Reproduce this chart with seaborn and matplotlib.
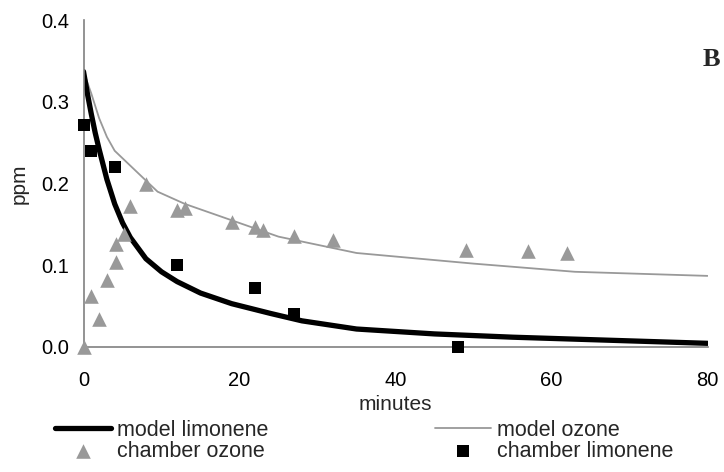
import numpy as np
import pandas as pd
import matplotlib
matplotlib.use("Agg")
import matplotlib.pyplot as plt
import seaborn as sns

# model curves (minutes, ppm)
model_t_lim = [0, 0.5, 1, 1.5, 2, 3, 4, 5, 6, 8, 10, 12, 15, 19, 24, 28, 35, 45, 55, 65, 80]
model_lim = [0.337, 0.31, 0.285, 0.262, 0.242, 0.205, 0.175, 0.152, 0.134, 0.108, 0.092,
             0.080, 0.066, 0.053, 0.041, 0.032, 0.022, 0.016, 0.012, 0.009, 0.0045]

model_t_oz = [0, 1, 2, 3, 4, 9.5, 13, 19, 25, 35, 50, 63, 80]
model_oz = [0.337, 0.31, 0.28, 0.257, 0.24, 0.19, 0.175, 0.155, 0.135, 0.115, 0.102, 0.092, 0.087]

# chamber measurements
ch_t_oz = [0, 1, 2, 3, 4.2, 4.2, 5.2, 5.9, 8, 12, 13, 19, 22, 23, 27, 32, 49, 57, 62]
ch_oz = [0.0, 0.062, 0.034, 0.082, 0.104, 0.126, 0.138, 0.172, 0.199, 0.168, 0.170,
         0.153, 0.147, 0.143, 0.136, 0.131, 0.119, 0.117, 0.115]

ch_t_lim = [0, 0.9, 4, 12, 22, 27, 48]
ch_lim = [0.272, 0.240, 0.220, 0.100, 0.072, 0.040, 0.0]

x_ticks = [0, 20, 40, 60, 80]
y_ticks = [0.0, 0.1, 0.2, 0.3, 0.4]

sns.set_style("white")
plt.rcParams['font.family'] = ['Liberation Sans', 'DejaVu Sans']

grey = '#999999'
axis_grey = '#808080'

fig = plt.figure(figsize=(7.24, 4.72), dpi=100)
ax = fig.add_axes([83.5 / 724, 1 - 347 / 472, 624 / 724, 327 / 472])

sns.lineplot(x=model_t_oz, y=model_oz, ax=ax, color=grey, linewidth=1.3,
             label='model ozone', legend=False)
sns.lineplot(x=model_t_lim, y=model_lim, ax=ax, color='black', linewidth=3.8,
             solid_capstyle='round', label='model limonene', legend=False)
sns.scatterplot(x=ch_t_oz, y=ch_oz, ax=ax, marker='^', s=110, color=grey,
                edgecolor=grey, linewidth=0, clip_on=False, zorder=4,
                label='chamber ozone', legend=False)
sns.scatterplot(x=ch_t_lim, y=ch_lim, ax=ax, marker='s', s=70, color='black',
                edgecolor='black', linewidth=0, clip_on=False, zorder=5,
                label='chamber limonene', legend=False)

ax.set_xlim(0, 80)
ax.set_ylim(0, 0.4)
ax.set_xticks(x_ticks)
ax.set_yticks(y_ticks)
ax.set_yticklabels([f'{v:.1f}' for v in y_ticks])
ax.tick_params(axis='both', direction='out', length=5, width=1, color=axis_grey,
               labelsize=14.5, labelcolor='black')
ax.tick_params(axis='x', pad=12)
ax.tick_params(axis='y', pad=5)
sns.despine(ax=ax)
for side in ['left', 'bottom']:
    ax.spines[side].set_color(axis_grey)
    ax.spines[side].set_linewidth(1.2)

ax.set_xlabel('minutes', fontsize=15, labelpad=4)
ax.set_ylabel('ppm', fontsize=15, labelpad=9)

handles, labels = ax.get_legend_handles_labels()
hmap = dict(zip(labels, handles))

leg_kw = dict(frameon=False, fontsize=15.5, handlelength=2.6, handletextpad=0.3,
              borderpad=0, borderaxespad=0, labelspacing=0.0, loc='upper left')
leg1 = fig.legend([hmap['model limonene'], hmap['chamber ozone']],
                  ['model limonene', 'chamber ozone'],
                  bbox_to_anchor=(55 / 724, 1 - 420 / 472), **leg_kw)
leg2 = fig.legend([hmap['model ozone'], hmap['chamber limonene']],
                  ['model ozone', 'chamber limonene'],
                  bbox_to_anchor=(435 / 724, 1 - 420 / 472), **leg_kw)

fig.text(703 / 724, 1 - 60 / 472, 'B', fontsize=19, fontweight='bold',
         family='Liberation Serif', ha='left', va='center')

fig.savefig('out.png', dpi=100)
